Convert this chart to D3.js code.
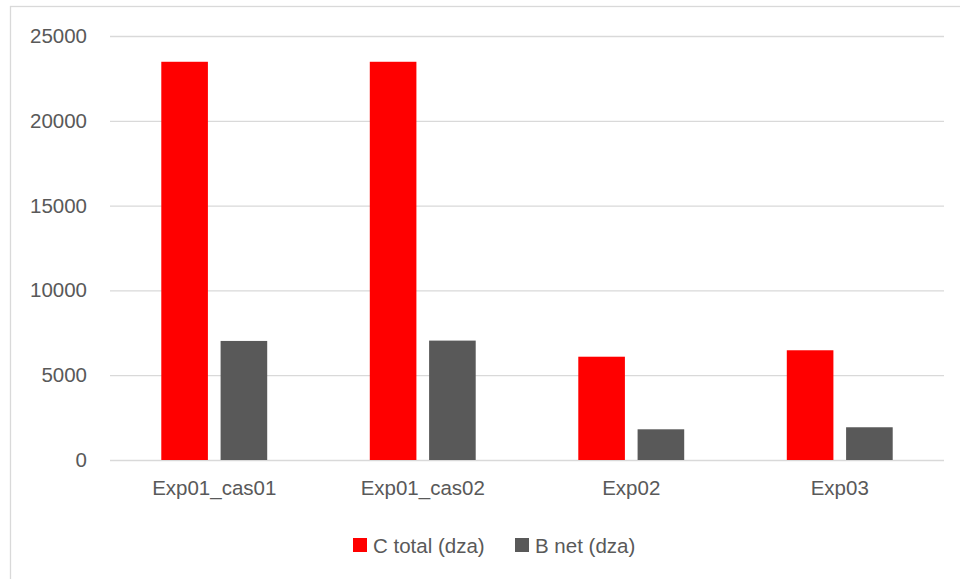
<!DOCTYPE html>
<html><head><meta charset="utf-8">
<script src="https://cdn.jsdelivr.net/npm/d3@7/dist/d3.min.js"></script>
<style>html,body{margin:0;padding:0;background:#fff;}svg{display:block;}</style>
</head><body>
<script>
const categories = ["Exp01_cas01", "Exp01_cas02", "Exp02", "Exp03"];
const seriesNames = ["C total (dza)", "B net (dza)"];
const cTotal = [23480, 23480, 6090, 6470];
const bNet = [7020, 7040, 1810, 1930];
const yTicks = [0, 5000, 10000, 15000, 20000, 25000];
const colors = ["#ff0000", "#595959"];

(function () {
const W = 960, H = 579;
const svg = d3.select("body").append("svg").attr("width", W).attr("height", H);
const font = "'Liberation Sans', Arial, sans-serif";

svg.append("rect").attr("x", 10.5).attr("y", 6.5).attr("width", 1000).attr("height", 1000)
  .attr("fill", "#fff").attr("stroke", "#d9d9d9").attr("stroke-width", 1.3);

const mLeft = 110, mRight = 944, mTop = 36, mBottom = 460;
const y = d3.scaleLinear().domain([0, 25000]).range([mBottom, mTop]);
const x0 = d3.scaleBand().domain(categories).range([mLeft, mRight]).padding(0);
const x1 = d3.scaleBand().domain(seriesNames).range([0, x0.bandwidth()])
  .paddingInner(0.214).paddingOuter(0.865);

const yAxis = d3.axisLeft(y).tickValues(yTicks).tickSize(-(mRight - mLeft)).tickFormat(d3.format("d"));
const ga = svg.append("g").attr("transform", `translate(${mLeft},0)`).call(yAxis);
ga.select(".domain").remove();
ga.selectAll(".tick line").attr("stroke", "#d9d9d9").attr("stroke-width", 1.3);
ga.selectAll(".tick text").attr("x", -23).attr("fill", "#595959")
  .style("font-family", font).style("font-size", "20.5px");

const data = categories.map((c, i) => ({cat: c, vals: [cTotal[i], bNet[i]]}));
const g = svg.append("g");
data.forEach(d => {
  d.vals.forEach((v, j) => {
    g.append("rect")
      .attr("x", x0(d.cat) + x1(seriesNames[j]))
      .attr("y", y(v))
      .attr("width", x1.bandwidth())
      .attr("height", y(0) - y(v))
      .attr("fill", colors[j]);
  });
});

const xAxis = d3.axisBottom(x0).tickSize(0).tickPadding(20);
const gx = svg.append("g").attr("transform", `translate(0,${mBottom})`).call(xAxis);
gx.select(".domain").remove();
gx.selectAll(".tick text").attr("fill", "#595959").attr("dy", "0.71em")
  .style("font-family", font).style("font-size", "20.5px");

const legendItems = [{x: 353, name: seriesNames[0], c: colors[0]}, {x: 515, name: seriesNames[1], c: colors[1]}];
const lg = svg.append("g");
legendItems.forEach(it => {
  lg.append("rect").attr("x", it.x).attr("y", 538).attr("width", 14).attr("height", 14).attr("fill", it.c);
  lg.append("text").attr("x", it.x + 20).attr("y", 552.5).text(it.name)
    .attr("fill", "#595959").style("font-family", font).style("font-size", "20.5px");
});
})();
</script>
</body></html>
